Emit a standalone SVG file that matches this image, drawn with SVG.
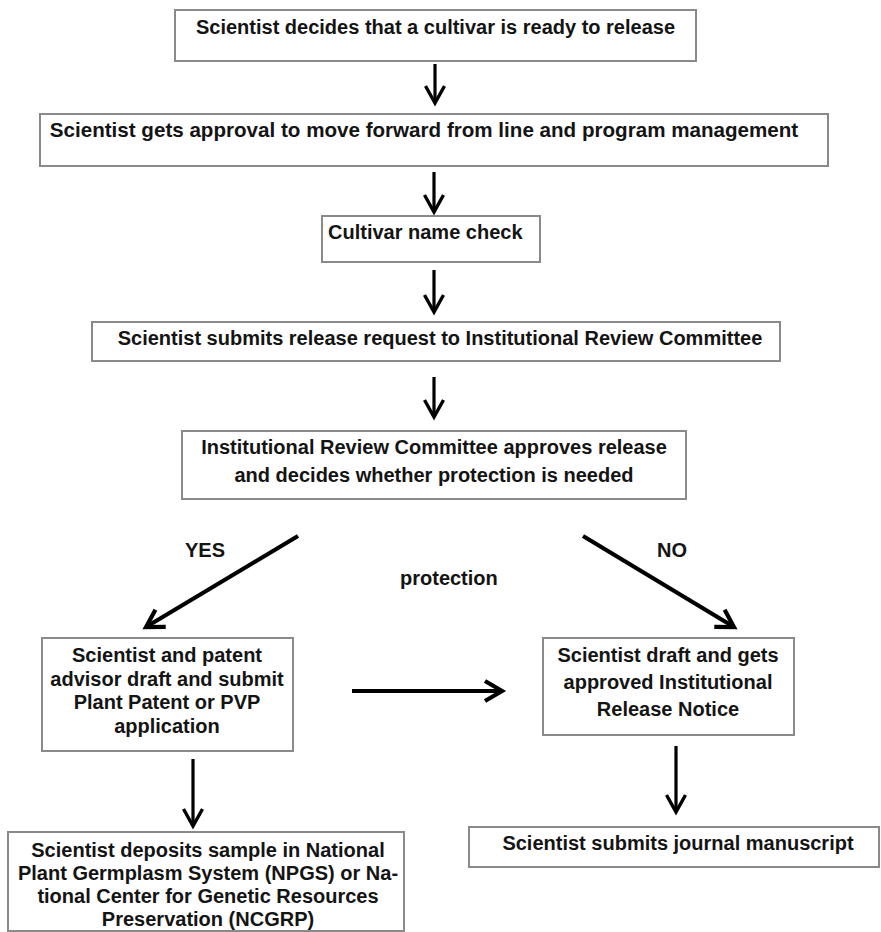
<svg xmlns="http://www.w3.org/2000/svg" width="881" height="932" viewBox="0 0 881 932">
<defs>
<style>
.box{fill:#fff;stroke:#8a8a8a;stroke-width:2}
.t{font-family:"Liberation Sans",Arial,sans-serif;font-weight:bold;font-size:20px;fill:#141414;text-anchor:middle}
.l{text-anchor:start}
.c{stroke:#000;fill:none;stroke-width:3.2}
.c2{stroke:#000;fill:none;stroke-width:4.2}
</style>
<marker id="ah" markerUnits="userSpaceOnUse" orient="auto" markerWidth="40" markerHeight="40" refX="0" refY="0" viewBox="-25 -20 40 40" overflow="visible">
<path d="M-17,-9.5 L0,0 L-17,9.5" fill="none" stroke="#000" stroke-width="3.4" stroke-linejoin="miter"/>
</marker>
<marker id="ah2" markerUnits="userSpaceOnUse" orient="auto" markerWidth="40" markerHeight="40" refX="0" refY="0" viewBox="-25 -20 40 40" overflow="visible">
<path d="M-17,-10 L0,0 L-17,10" fill="none" stroke="#000" stroke-width="4.2" stroke-linejoin="miter"/>
</marker>
</defs>
<rect width="881" height="932" fill="#fff"/>

<g id="n1"><rect class="box" x="175" y="10" width="521" height="51"/><text class="t" x="435.5" y="34">Scientist decides that a cultivar is ready to release</text></g>
<g id="n2"><rect class="box" x="40" y="114" width="788" height="52"/><text class="t" x="424" y="137" style="font-size:20.6px">Scientist gets approval to move forward from line and program management</text></g>
<g id="n3"><rect class="box" x="322" y="216" width="218" height="46"/><text class="t l" x="328" y="239">Cultivar name check</text></g>
<g id="n4"><rect class="box" x="92" y="322" width="688" height="39"/><text class="t" x="440" y="345">Scientist submits release request to Institutional Review Committee</text></g>
<g id="n5"><rect class="box" x="182" y="431" width="504" height="68"/><text class="t" x="434" y="454">Institutional Review Committee approves release</text><text class="t" x="434" y="482">and decides whether protection is needed</text></g>
<g id="n6"><rect class="box" x="42" y="638" width="251" height="113"/><text class="t" x="167" y="662">Scientist and patent</text><text class="t" x="167" y="686">advisor draft and submit</text><text class="t" x="167" y="709">Plant Patent or PVP</text><text class="t" x="167" y="733">application</text></g>
<g id="n7"><rect class="box" x="543" y="638" width="251" height="97"/><text class="t" x="668" y="662">Scientist draft and gets</text><text class="t" x="668" y="689">approved Institutional</text><text class="t" x="668" y="716">Release Notice</text></g>
<g id="n8"><rect class="box" x="8" y="832" width="396" height="99"/><text class="t" x="208" y="857">Scientist deposits sample in National</text><text class="t" x="208" y="880">Plant Germplasm System (NPGS) or Na-</text><text class="t" x="208" y="903">tional Center for Genetic Resources</text><text class="t" x="208" y="926">Preservation (NCGRP)</text></g>
<g id="n9"><rect class="box" x="469" y="827" width="410" height="40"/><text class="t" x="678" y="850">Scientist submits journal manuscript</text></g>

<g id="labels">
<text class="t l" x="185" y="557">YES</text>
<text class="t l" x="657" y="557">NO</text>
<text class="t l" x="400" y="585">protection</text>
</g>

<g id="connectors">
<line class="c" x1="435" y1="64" x2="435" y2="103" marker-end="url(#ah)"/>
<line class="c" x1="434" y1="172" x2="434" y2="212" marker-end="url(#ah)"/>
<line class="c" x1="434" y1="270" x2="434" y2="312" marker-end="url(#ah)"/>
<line class="c" x1="434" y1="377" x2="434" y2="417" marker-end="url(#ah)"/>
<line class="c2" x1="298" y1="536" x2="146" y2="627" marker-end="url(#ah2)"/>
<line class="c2" x1="583" y1="536" x2="734" y2="627" marker-end="url(#ah2)"/>
<line class="c2" x1="352" y1="691" x2="502" y2="691" marker-end="url(#ah2)"/>
<line class="c" x1="193" y1="759" x2="193" y2="826" marker-end="url(#ah)"/>
<line class="c" x1="676" y1="746" x2="676" y2="812" marker-end="url(#ah)"/>
</g>
</svg>
